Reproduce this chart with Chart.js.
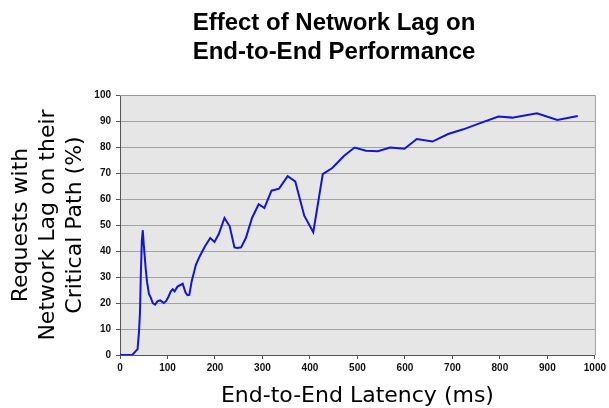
<!DOCTYPE html>
<html>
<head>
<meta charset="utf-8">
<script src="https://cdn.jsdelivr.net/npm/chart.js@4.4.1/dist/chart.umd.min.js"></script>
<style>
  html, body { margin: 0; padding: 0; background: #fff; }
  #wrap { width: 609px; height: 408px; }
</style>
</head>
<body>
<div id="wrap"><canvas id="lagChart" width="609" height="408"></canvas></div>
<script>
// ── DATA ──────────────────────────────────────────
const latencyMs = [0, 26, 33, 37, 40, 42, 44, 46, 48, 50, 54, 57, 61, 65, 69, 74, 79, 85, 92, 97,
  102, 107, 111, 115, 121, 132, 138, 142, 146, 151, 160, 168, 179, 190, 199, 208, 220, 231, 241,
  247, 255, 265, 278, 292, 304, 319, 335, 353, 369, 388, 407, 427, 447, 472, 494, 518, 543, 569,
  599, 625, 658, 691, 723, 754, 797, 826, 878, 921, 964];
const pctLagged = [0, 0, 1.5, 2.2, 9, 16, 32, 44, 48, 42.5, 33.5, 28, 23.5, 22, 20, 19.4, 20.7, 21,
  20, 20.7, 22.4, 24.5, 25.3, 24.5, 26.3, 27.4, 24, 23, 23.1, 28.4, 34.8, 38, 41.8, 45, 43.5,
  46.5, 52.7, 49.5, 41.4, 41.2, 41.4, 45, 52.7, 58, 56.5, 63.2, 64, 68.8, 66.8, 53.6, 47.2,
  69.6, 71.9, 76.6, 79.8, 78.6, 78.4, 79.8, 79.3, 83.1, 82.1, 85, 86.8, 88.9, 91.7, 91.3, 93,
  90.4, 91.9];

const xTicks = { min: 0, max: 1000, step: 100 };
const yTicks = { min: 0, max: 100, step: 10 };

const titleLines = ['Effect of Network Lag on', 'End-to-End Performance'];
const xTitle = 'End-to-End Latency (ms)';
const yTitle = ['Requests with', 'Network Lag on their', 'Critical Path (%)'];

// ── PLUGINS ───────────────────────────────────────
const plotFrame = {
  id: 'plotFrame',
  beforeDraw(chart) {
    const { ctx, chartArea: a } = chart;
    ctx.save();
    ctx.fillStyle = '#e6e6e6';
    ctx.fillRect(a.left, a.top, a.right - a.left, a.bottom - a.top);
    ctx.restore();
  },
  afterDraw(chart) {
    const { ctx, chartArea: a } = chart;
    ctx.save();
    ctx.strokeStyle = '#9a9a9a';
    ctx.lineWidth = 1;
    ctx.beginPath();
    ctx.moveTo(a.left, a.top + 0.5);
    ctx.lineTo(a.right + 0.5, a.top + 0.5);
    ctx.lineTo(a.right + 0.5, a.bottom);
    ctx.stroke();
    // two-line heading
    ctx.fillStyle = '#000';
    ctx.font = "bold 24px 'Liberation Sans', Arial, sans-serif";
    ctx.textAlign = 'center';
    ctx.textBaseline = 'alphabetic';
    ctx.fillText(titleLines[0], 334, 30);
    ctx.fillText(titleLines[1], 334, 59);
    ctx.restore();
  },
};

// ── CHART ─────────────────────────────────────────
const tickFont = { family: "'Liberation Sans', Arial, sans-serif", size: 10, weight: 'bold' };
const axisFont = { family: "'DejaVu Sans', Verdana, sans-serif", size: 22 };

new Chart(document.getElementById('lagChart'), {
  type: 'line',
  data: {
    datasets: [{
      data: latencyMs.map((x, i) => ({ x, y: pctLagged[i] })),
      borderColor: '#1414d6',
      borderWidth: 2,
      pointRadius: 0,
      tension: 0,
      fill: false,
    }],
  },
  options: {
    responsive: false,
    animation: false,
    layout: { padding: { top: 95, right: 11, left: 0, bottom: 0 } },
    plugins: {
      legend: { display: false },
      tooltip: { enabled: false },
    },
    scales: {
      x: {
        type: 'linear',
        min: xTicks.min, max: xTicks.max,
        afterFit(s) { s.height = 53; },
        ticks: {
          stepSize: xTicks.step, color: '#111', font: tickFont, padding: 3, maxRotation: 0,
          callback: v => String(v),
        },
        grid: { drawOnChartArea: false, drawTicks: true, tickLength: 4, color: '#555' },
        border: { display: true, color: '#555', width: 1 },
        title: {
          display: true, text: xTitle, color: '#000',
          font: { ...axisFont, lineHeight: 1 }, padding: { top: 0, bottom: 1 },
        },
      },
      y: {
        min: yTicks.min, max: yTicks.max,
        afterFit(s) { s.width = 120; },
        ticks: { stepSize: yTicks.step, color: '#111', font: tickFont, padding: 5 },
        grid: { color: '#a3a3a3', tickColor: '#555', tickLength: 4 },
        border: { display: true, color: '#555', width: 1 },
        title: {
          display: true, text: yTitle, color: '#000',
          font: { ...axisFont, lineHeight: 1.23 }, padding: { top: 8, bottom: 0 },
        },
      },
    },
  },
  plugins: [plotFrame],
});
</script>
</body>
</html>
